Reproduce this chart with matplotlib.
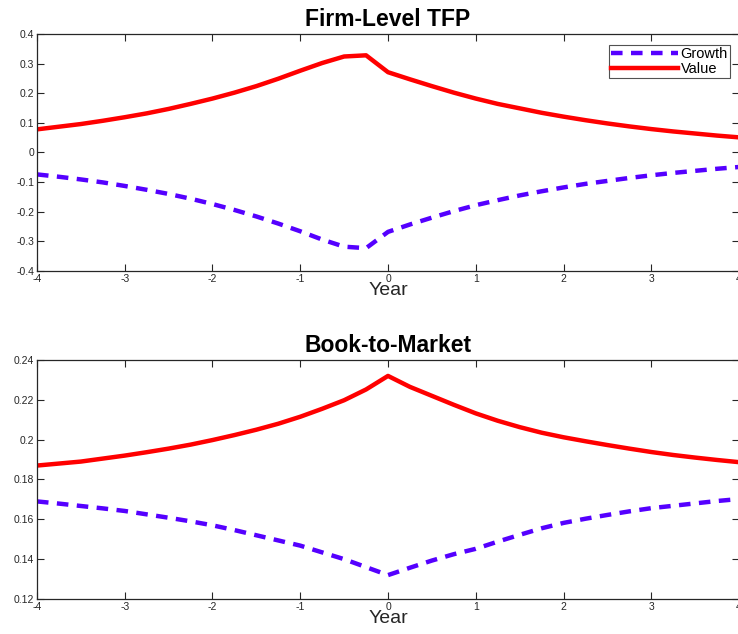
import numpy as np
import matplotlib
matplotlib.use('Agg')
import matplotlib.pyplot as plt

plt.rcParams['font.family'] = ['Liberation Sans', 'DejaVu Sans']

# quarterly event time, -4 .. 4 years
year = np.arange(-16, 17) / 4.0

tfp_growth = [-0.074, -0.082, -0.091, -0.101, -0.113, -0.126, -0.140, -0.156,
              -0.174, -0.194, -0.216, -0.240, -0.266, -0.294, -0.318, -0.323,
              -0.268, -0.243, -0.220, -0.198, -0.178, -0.161, -0.145, -0.131,
              -0.118, -0.106, -0.096, -0.086, -0.077, -0.069, -0.062, -0.055,
              -0.049]
tfp_value = [0.078, 0.087, 0.096, 0.107, 0.119, 0.132, 0.147, 0.164,
             0.182, 0.202, 0.224, 0.249, 0.276, 0.302, 0.324, 0.328,
             0.271, 0.247, 0.224, 0.202, 0.182, 0.164, 0.149, 0.134,
             0.121, 0.109, 0.098, 0.088, 0.079, 0.071, 0.064, 0.057,
             0.051]

bm_growth = [0.1690, 0.1679, 0.1667, 0.1655, 0.1642, 0.1625, 0.1608, 0.1590,
             0.1570, 0.1546, 0.1520, 0.1494, 0.1468, 0.1434, 0.1400, 0.1360,
             0.1320, 0.1357, 0.1393, 0.1425, 0.1452, 0.1488, 0.1522, 0.1555,
             0.1582, 0.1603, 0.1622, 0.1640, 0.1656, 0.1668, 0.1680, 0.1692,
             0.1702]
bm_value = [0.1870, 0.1880, 0.1890, 0.1905, 0.1920, 0.1937, 0.1955, 0.1975,
            0.1998, 0.2023, 0.2050, 0.2080, 0.2115, 0.2155, 0.2198, 0.2252,
            0.2320, 0.2265, 0.2220, 0.2175, 0.2132, 0.2095, 0.2063, 0.2035,
            0.2012, 0.1992, 0.1973, 0.1955, 0.1938, 0.1923, 0.1910, 0.1898,
            0.1887]

blue = '#5500ff'
red = '#ff0000'
dash = (0, (2.6, 1.9))

fig = plt.figure(figsize=(7.38, 6.34), dpi=100)
ax1 = fig.add_axes([0.0501, 0.5726, 0.9513, 0.3738])
ax2 = fig.add_axes([0.0501, 0.0552, 0.9513, 0.3770])

def style(ax, ylim, yticks, ylabels):
    ax.set_xlim(-4, 4)
    ax.set_ylim(*ylim)
    ax.set_xticks(range(-4, 5))
    ax.set_xticklabels([str(i) for i in range(-4, 5)])
    ax.set_yticks(yticks)
    ax.set_yticklabels(ylabels)
    ax.tick_params(direction='in', top=True, right=True, labelsize=7.5,
                   length=5, width=0.8, colors='#262626', pad=2)
    for s in ax.spines.values():
        s.set_color('#262626')
        s.set_linewidth(0.9)
    ax.set_xlabel('Year', fontsize=14, color='#262626', labelpad=-1)

ax1.plot(year, tfp_growth, color=blue, lw=3.2, ls=dash, label='Growth')
ax1.plot(year, tfp_value, color=red, lw=3.2, label='Value')
style(ax1, (-0.4, 0.4), np.arange(-0.4, 0.41, 0.1),
      ['-0.4', '-0.3', '-0.2', '-0.1', '0', '0.1', '0.2', '0.3', '0.4'])
ax1.set_title('Firm-Level TFP', fontsize=16.5, fontweight='bold', pad=6)
leg = ax1.legend(loc='upper right', bbox_to_anchor=(0.987, 0.955), fontsize=10.5,
                 fancybox=False, handlelength=4.6, handletextpad=0.15,
                 borderpad=0.15, labelspacing=0.1, borderaxespad=0)
leg.get_frame().set_edgecolor('#262626')
leg.get_frame().set_linewidth(0.8)

ax2.plot(year, bm_growth, color=blue, lw=3.2, ls=dash)
ax2.plot(year, bm_value, color=red, lw=3.2)
style(ax2, (0.12, 0.24), np.arange(0.12, 0.241, 0.02),
      ['0.12', '0.14', '0.16', '0.18', '0.2', '0.22', '0.24'])
ax2.set_title('Book-to-Market', fontsize=16.5, fontweight='bold', pad=6)

plt.savefig('out.png', dpi=100)
